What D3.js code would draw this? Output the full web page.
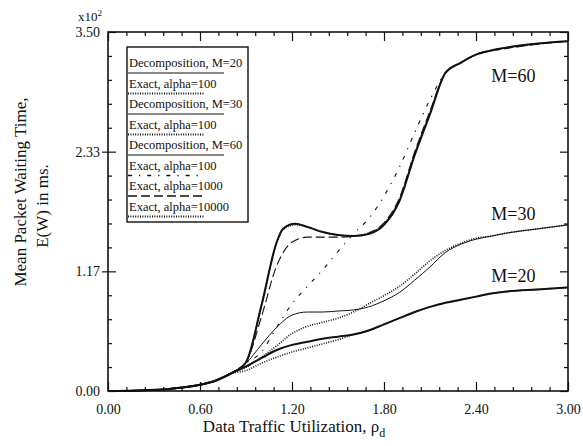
<!DOCTYPE html>
<html>
<head>
<meta charset="utf-8">
<script src="https://cdn.jsdelivr.net/npm/d3@7"></script>
<style>
  body { margin: 0; background: #fff; }
  #chart text { font-family: 'Liberation Serif', 'DejaVu Serif', serif; }
</style>
</head>
<body>
<svg id="chart" width="583" height="446"></svg>
<script>
// values in units of x10^2 ms
const lowX = [0, 0.2, 0.4, 0.6, 0.7, 0.8];
const lowY = [0, 0.005, 0.02, 0.06, 0.1, 0.17];

const m60DecX = [...lowX, 0.9, 1.0, 1.1, 1.14, 1.22, 1.3, 1.4, 1.5, 1.6, 1.7, 1.8, 1.9, 2.0, 2.1, 2.2, 2.3, 2.4, 2.5, 2.7, 2.9, 3.0];
const m60DecY = [...lowY, 0.28, 0.83, 1.45, 1.58, 1.63, 1.60, 1.55, 1.52, 1.51, 1.53, 1.62, 1.85, 2.30, 2.70, 3.10, 3.20, 3.28, 3.32, 3.37, 3.40, 3.41];

const m60A10000X = [...lowX, 0.9, 1.0, 1.1, 1.14, 1.22, 1.3, 1.4, 1.5, 1.6, 1.7, 1.8, 1.9, 2.0, 2.1, 2.2, 2.3, 2.4, 2.5, 2.7, 2.9, 3.0];
const m60A10000Y = [...lowY, 0.28, 0.82, 1.44, 1.57, 1.62, 1.60, 1.55, 1.52, 1.51, 1.54, 1.63, 1.86, 2.31, 2.71, 3.10, 3.20, 3.28, 3.32, 3.37, 3.40, 3.41];

const m60A1000X = [...lowX, 0.9, 1.0, 1.1, 1.2, 1.3, 1.4, 1.5, 1.6, 1.7, 1.8, 1.9, 2.0, 2.1, 2.2, 2.3, 2.4, 2.6, 2.8, 3.0];
const m60A1000Y = [...lowY, 0.28, 0.72, 1.22, 1.45, 1.50, 1.50, 1.50, 1.51, 1.54, 1.64, 1.88, 2.33, 2.73, 3.10, 3.20, 3.28, 3.34, 3.38, 3.41];

const m60A100X = [...lowX, 0.9, 1.0, 1.1, 1.2, 1.3, 1.4, 1.5, 1.6, 1.7, 1.8, 1.9, 2.0, 2.1, 2.2, 2.3, 2.4, 2.6, 2.8, 3.0];
const m60A100Y = [...lowY, 0.27, 0.38, 0.62, 0.85, 1.02, 1.18, 1.36, 1.53, 1.68, 1.90, 2.18, 2.52, 2.84, 3.10, 3.20, 3.28, 3.34, 3.38, 3.41];

const m30DecX = [...lowX, 0.9, 1.0, 1.1, 1.2, 1.3, 1.4, 1.5, 1.6, 1.7, 1.8, 1.9, 2.0, 2.1, 2.2, 2.3, 2.4, 2.5, 2.6, 2.8, 3.0];
const m30DecY = [...lowY, 0.27, 0.45, 0.62, 0.74, 0.77, 0.77, 0.78, 0.79, 0.82, 0.88, 0.96, 1.08, 1.21, 1.35, 1.43, 1.48, 1.51, 1.54, 1.58, 1.62];

const m30A100X = [...lowX, 0.9, 1.0, 1.1, 1.2, 1.3, 1.4, 1.5, 1.6, 1.7, 1.8, 1.9, 2.0, 2.1, 2.2, 2.3, 2.4, 2.5, 2.6, 2.8, 3.0];
const m30A100Y = [...lowY, 0.23, 0.33, 0.44, 0.56, 0.63, 0.67, 0.71, 0.77, 0.85, 0.93, 1.02, 1.14, 1.27, 1.37, 1.44, 1.49, 1.51, 1.54, 1.58, 1.62];

const m20DecX = [...lowX, 0.9, 1.0, 1.1, 1.2, 1.3, 1.4, 1.5, 1.6, 1.7, 1.8, 1.9, 2.0, 2.1, 2.2, 2.3, 2.4, 2.5, 2.6, 2.8, 3.0];
const m20DecY = [...lowY, 0.24, 0.32, 0.40, 0.45, 0.48, 0.51, 0.53, 0.55, 0.59, 0.65, 0.71, 0.77, 0.82, 0.86, 0.89, 0.92, 0.95, 0.97, 0.99, 1.01];

const m20A100X = [...lowX, 0.9, 1.0, 1.1, 1.2, 1.3, 1.4, 1.5, 1.6, 1.7, 1.8, 1.9, 2.0, 2.1, 2.2, 2.3, 2.4, 2.5, 2.6, 2.8, 3.0];
const m20A100Y = [...lowY, 0.20, 0.27, 0.33, 0.38, 0.42, 0.46, 0.50, 0.55, 0.59, 0.65, 0.71, 0.77, 0.82, 0.86, 0.89, 0.92, 0.95, 0.97, 0.99, 1.01];

const xTickLabels = ["0.00", "0.60", "1.20", "1.80", "2.40", "3.00"];
const yTickLabels = ["0.00", "1.17", "2.33", "3.50"];

const legendLabels = ["Decomposition, M=20", "Exact, alpha=100", "Decomposition, M=30", "Exact, alpha=100",
  "Decomposition, M=60", "Exact, alpha=100", "Exact, alpha=1000", "Exact, alpha=10000"];

const curveLabels = [
  { text: "M=60", x: 2.5, y: 3.01 },
  { text: "M=30", x: 2.5, y: 1.67 },
  { text: "M=20", x: 2.5, y: 1.06 }
];

// line styles
const styles = {
  solidThick: { width: 2, dash: null },
  solidThin: { width: 1, dash: null },
  dotted: { width: 1.6, dash: "1,1.4" },
  longDash: { width: 1.1, dash: "9,4" },
  dashDot: { width: 1.1, dash: "4,7,1.2,7" }
};

const series = [
  { xs: m20A100X, ys: m20A100Y, style: "dotted" },
  { xs: m20DecX, ys: m20DecY, style: "solidThick" },
  { xs: m30A100X, ys: m30A100Y, style: "dotted" },
  { xs: m30DecX, ys: m30DecY, style: "solidThin" },
  { xs: m60A100X, ys: m60A100Y, style: "dashDot" },
  { xs: m60A1000X, ys: m60A1000Y, style: "longDash" },
  { xs: m60A10000X, ys: m60A10000Y, style: "dotted" },
  { xs: m60DecX, ys: m60DecY, style: "solidThick" }
];

const legendStyles = ["solidThin", "dotted", "solidThin", "dotted", "solidThin", "dashDot", "longDash", "dotted"];

const margin = { top: 32, right: 15, bottom: 55, left: 108 };
const width = 583 - margin.left - margin.right;
const height = 446 - margin.top - margin.bottom;

const svg = d3.select("#chart");
const g = svg.append("g").attr("transform", `translate(${margin.left},${margin.top})`);

const x = d3.scaleLinear().domain([0, 3]).range([0, width]);
const y = d3.scaleLinear().domain([0, 3.5]).range([height, 0]);

const xMajor = xTickLabels.map(Number);
const xMinor = d3.range(0, 25).map(i => i * 0.12).filter(v => xMajor.every(m => Math.abs(m - v) > 1e-6));
const yMajor = [0, 3.5 / 3, 7 / 3, 3.5];
const yMinor = d3.range(1, 15).map(i => i * 3.5 / 15).filter(v => yMajor.every(m => Math.abs(m - v) > 1e-6));

const axisStyle = sel => {
  sel.attr("font-family", null).attr("font-size", null);
  sel.select(".domain").remove();
  sel.selectAll("line").attr("stroke", "#111").attr("stroke-width", 1.2);
};

// bottom axis: inward ticks
const bottomAxis = g.append("g").attr("transform", `translate(0,${height})`);
bottomAxis.call(d3.axisBottom(x).tickValues(xMajor).tickSize(-9).tickPadding(13)
  .tickFormat((d, i) => xTickLabels[i])).call(axisStyle);
bottomAxis.append("g").call(d3.axisBottom(x).tickValues(xMinor).tickSize(-4).tickFormat("")).call(axisStyle);
bottomAxis.selectAll("text").attr("font-size", 14).attr("fill", "#111");

const topAxis = g.append("g");
topAxis.call(d3.axisTop(x).tickValues(xMajor).tickSize(-9).tickFormat("")).call(axisStyle);
topAxis.append("g").call(d3.axisTop(x).tickValues(xMinor).tickSize(-4).tickFormat("")).call(axisStyle);

const leftAxis = g.append("g");
leftAxis.call(d3.axisLeft(y).tickValues(yMajor).tickSize(-8).tickPadding(8)
  .tickFormat((d, i) => yTickLabels[i])).call(axisStyle);
leftAxis.append("g").call(d3.axisLeft(y).tickValues(yMinor).tickSize(-4).tickFormat("")).call(axisStyle);
leftAxis.selectAll("text").attr("font-size", 14).attr("fill", "#111");
// outward stub of middle major ticks on the left
leftAxis.append("g").call(d3.axisLeft(y).tickValues(yMajor.slice(1, 3)).tickSize(6).tickFormat("")).call(axisStyle);

const rightAxis = g.append("g").attr("transform", `translate(${width},0)`);
rightAxis.call(d3.axisRight(y).tickValues(yMajor).tickSize(-8).tickFormat("")).call(axisStyle);
rightAxis.append("g").call(d3.axisRight(y).tickValues(yMinor).tickSize(-4).tickFormat("")).call(axisStyle);

// frame
g.append("rect").attr("width", width).attr("height", height)
  .attr("fill", "none").attr("stroke", "#111").attr("stroke-width", 1.6);

// curves
const line = d3.line().x(d => x(d[0])).y(d => y(d[1])).curve(d3.curveMonotoneX);
series.forEach(s => {
  const st = styles[s.style];
  g.append("path")
    .datum(s.xs.map((v, i) => [v, s.ys[i]]))
    .attr("d", line)
    .attr("fill", "none")
    .attr("stroke", "#111")
    .attr("stroke-width", st.width)
    .attr("stroke-dasharray", st.dash);
});

curveLabels.forEach(c => {
  g.append("text").attr("x", x(c.x)).attr("y", y(c.y))
    .attr("font-size", 18).attr("fill", "#111").text(c.text);
});

// legend
const legend = svg.append("g").attr("transform", "translate(127,47)");
legend.append("rect").attr("width", 121).attr("height", 175)
  .attr("fill", "#fff").attr("stroke", "#111").attr("stroke-width", 1.4);
legendLabels.forEach((t, i) => {
  const yy = 20 + i * 20.5;
  legend.append("text").attr("x", 2).attr("y", yy).attr("font-size", 12.5)
    .attr("fill", "#111").text(t);
  const st = styles[legendStyles[i]];
  legend.append("line").attr("x1", 1).attr("x2", t.startsWith("Decomp") ? 97 : 77)
    .attr("y1", yy + 6).attr("y2", yy + 6)
    .attr("stroke", "#111").attr("stroke-width", st.width + 0.2).attr("stroke-dasharray", st.dash);
});

// axis titles
svg.append("text").attr("x", 78).attr("y", 21).attr("font-size", 13).attr("fill", "#111")
  .html('x10<tspan dy="-5" font-size="9">2</tspan>');

const xt = svg.append("text").attr("x", 294).attr("y", 432)
  .attr("text-anchor", "middle").attr("font-size", 17).attr("fill", "#111");
xt.append("tspan").text("Data Traffic Utilization, ρ");
xt.append("tspan").attr("dy", 5).attr("font-size", 12).text("d");

svg.append("text").attr("transform", "translate(26,192) rotate(-90)").attr("fill", "#111")
  .attr("text-anchor", "middle").attr("font-size", 17).text("Mean Packet Waiting Time,");
svg.append("text").attr("transform", "translate(48,206) rotate(-90)").attr("fill", "#111")
  .attr("text-anchor", "middle").attr("font-size", 17).text("E(W) in ms.");
</script>
</body>
</html>
